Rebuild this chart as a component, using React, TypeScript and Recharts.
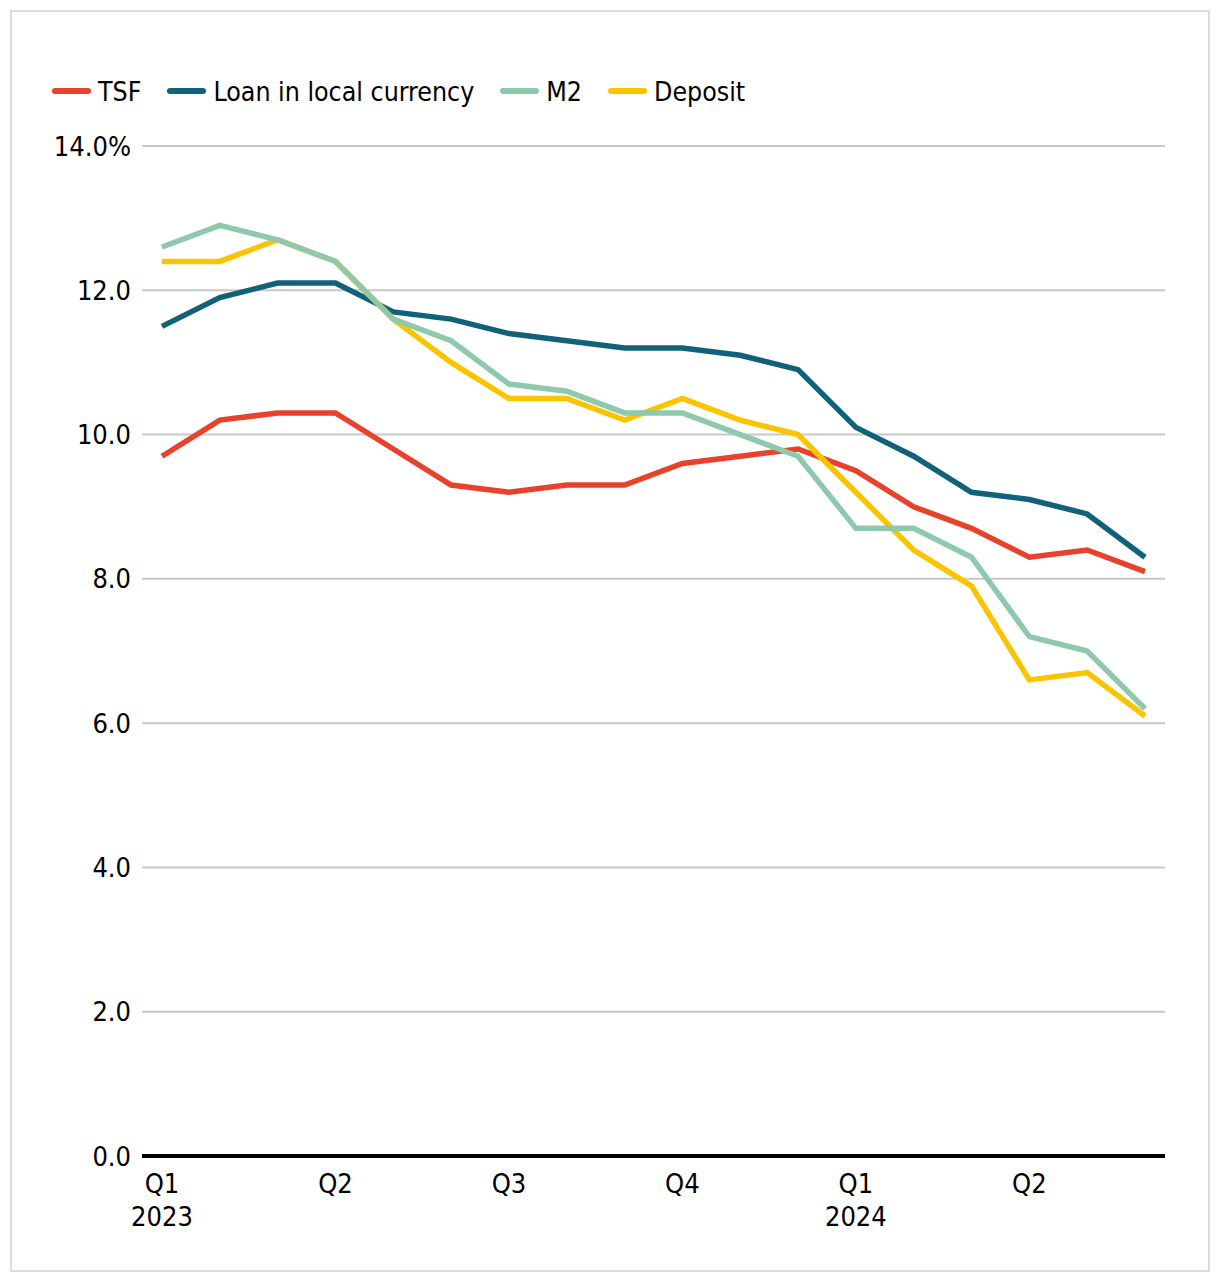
import { LineChart, Line, XAxis, YAxis, CartesianGrid, Legend } from 'recharts'

const months = [
  'Jan 23', 'Feb 23', 'Mar 23', 'Apr 23', 'May 23', 'Jun 23', 'Jul 23', 'Aug 23', 'Sep 23',
  'Oct 23', 'Nov 23', 'Dec 23', 'Jan 24', 'Feb 24', 'Mar 24', 'Apr 24', 'May 24', 'Jun 24',
]
const quarterLabels = ['Q1', '', '', 'Q2', '', '', 'Q3', '', '', 'Q4', '', '', 'Q1', '', '', 'Q2', '', '']
const yearLabels = ['2023', '', '', '', '', '', '', '', '', '', '', '', '2024', '', '', '', '', '']

const tsf = [9.7, 10.2, 10.3, 10.3, 9.8, 9.3, 9.2, 9.3, 9.3, 9.6, 9.7, 9.8, 9.5, 9.0, 8.7, 8.3, 8.4, 8.1]
const loan = [11.5, 11.9, 12.1, 12.1, 11.7, 11.6, 11.4, 11.3, 11.2, 11.2, 11.1, 10.9, 10.1, 9.7, 9.2, 9.1, 8.9, 8.3]
const m2 = [12.6, 12.9, 12.7, 12.4, 11.6, 11.3, 10.7, 10.6, 10.3, 10.3, 10.0, 9.7, 8.7, 8.7, 8.3, 7.2, 7.0, 6.2]
const deposit = [12.4, 12.4, 12.7, 12.4, 11.6, 11.0, 10.5, 10.5, 10.2, 10.5, 10.2, 10.0, 9.2, 8.4, 7.9, 6.6, 6.7, 6.1]

const yTicks = [0, 2, 4, 6, 8, 10, 12, 14]

const series = [
  { key: 'tsf', name: 'TSF', color: '#e8412c' },
  { key: 'loan', name: 'Loan in local currency', color: '#12617a' },
  { key: 'm2', name: 'M2', color: '#8ec9ad' },
  { key: 'deposit', name: 'Deposit', color: '#fbc400' },
]

const data = months.map((m, i) => ({
  month: m,
  idx: i,
  tsf: tsf[i],
  loan: loan[i],
  m2: m2[i],
  deposit: deposit[i],
}))

const FONT = '"DejaVu Sans Condensed", "DejaVu Sans", sans-serif'

function QuarterTick(props: any) {
  const { x, y, payload } = props
  const i = payload.index
  if (!quarterLabels[i]) return null
  return (
    <g>
      <text x={x} y={y + 29} textAnchor="middle" fontSize={27} fill="#000" fontFamily={FONT}>
        {quarterLabels[i]}
      </text>
      {yearLabels[i] && (
        <text x={x} y={y + 62} textAnchor="middle" fontSize={27} fill="#000" fontFamily={FONT}>
          {yearLabels[i]}
        </text>
      )}
    </g>
  )
}

function LegendContent() {
  return (
    <div style={{ display: 'flex', alignItems: 'center', fontFamily: FONT, fontSize: 26.5, color: '#000', height: 30 }}>
      {series.map((s) => (
        <div key={s.key} style={{ display: 'flex', alignItems: 'center', marginRight: 26 }}>
          <span
            style={{
              display: 'inline-block',
              width: 39,
              height: 6,
              borderRadius: 3,
              background: s.color,
              marginRight: 7,
            }}
          />
          <span>{s.name}</span>
        </div>
      ))}
    </div>
  )
}

export default function App() {
  return (
    <div style={{ margin: 2, width: 1196, height: 1258, border: '2px solid #dcdcdc', background: '#fff' }}>
      <LineChart width={1196} height={1258} data={data} margin={{ top: 104, right: 43, bottom: 54, left: 0 }}>
        <CartesianGrid horizontal vertical={false} stroke="#c8c8c8" strokeWidth={2} />
        <Legend
          verticalAlign="top"
          align="left"
          content={<LegendContent />}
          wrapperStyle={{ top: 64, left: 40 }}
        />
        <XAxis
          dataKey="idx"
          type="category"
          interval={0}
          tick={<QuarterTick />}
          tickLine={false}
          axisLine={{ stroke: '#000', strokeWidth: 4 }}
          padding={{ left: 20, right: 20 }}
          height={60}
        />
        <YAxis
          domain={[0, 14]}
          ticks={yTicks}
          width={130}
          axisLine={false}
          tickLine={false}
          tickMargin={5}
          tick={{ fontSize: 27, fill: '#000', fontFamily: FONT }}
          tickFormatter={(v: number) => (v === 14 ? '14.0%' : v.toFixed(1))}
        />
        <Line dataKey="loan" name="Loan in local currency" stroke="#12617a" strokeWidth={5.5} dot={false} isAnimationActive={false} />
        <Line dataKey="tsf" name="TSF" stroke="#e8412c" strokeWidth={5.5} dot={false} isAnimationActive={false} />
        <Line dataKey="deposit" name="Deposit" stroke="#fbc400" strokeWidth={5.5} dot={false} isAnimationActive={false} />
        <Line dataKey="m2" name="M2" stroke="#8ec9ad" strokeWidth={5.5} dot={false} isAnimationActive={false} />
      </LineChart>
    </div>
  )
}
